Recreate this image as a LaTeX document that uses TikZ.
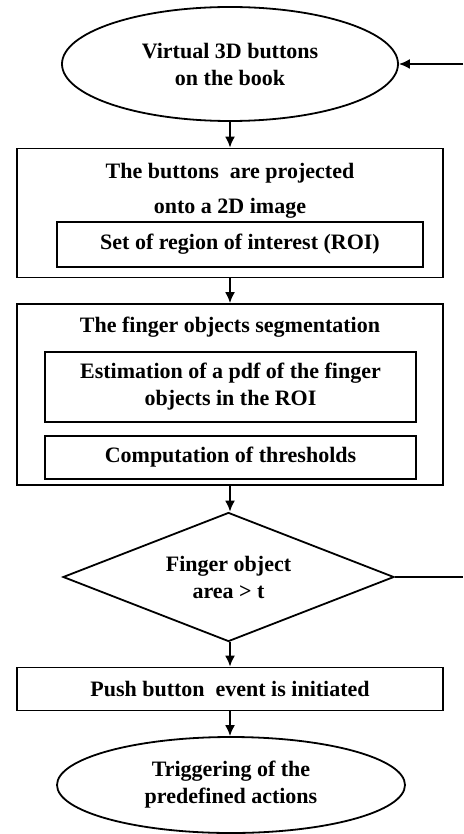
\documentclass[tikz,border=0pt]{standalone}
\usepackage{fontspec}
\setmainfont{Liberation Serif}
\usetikzlibrary{shapes.geometric,arrows.meta}

\begin{document}
\begin{tikzpicture}[x=1pt, y=-1pt,
   every node/.style={font=\bfseries\fontsize{22}{27}\selectfont, align=center, inner sep=0pt},
   box/.style={draw, line width=1.8pt, rectangle},
   oval/.style={draw, line width=1.8pt, ellipse},
   decide/.style={draw, line width=1.8pt, diamond, aspect=2.57},
   flow/.style={line width=1.8pt, -{Latex[length=11pt,width=10pt]}}]
   \useasboundingbox (0,0) rectangle (463,834);
   % start and end ovals
   \node (virt) [oval, minimum width=336pt, minimum height=114pt] at (230,64) {Virtual 3D buttons\\on the book};
   \node (trig) [oval, minimum width=348pt, minimum height=96pt] at (231,785) {Triggering of the\\predefined actions};
   % projection step
   \node (proj) [box, minimum width=426pt, minimum height=129pt] at (230,213) {};
   \node (projA) at (230,173) {The buttons~ are projected};
   \node (projB) at (230,208) {onto a 2D image};
   \node (roi) [box, minimum width=366pt, minimum height=45pt] at (240,244.5) {Set of region of interest (ROI)};
   % segmentation step
   \node (seg) [box, minimum width=426pt, minimum height=181pt] at (230,394.5) {};
   \node (segA) at (230,327) {The finger objects segmentation};
   \node (pdf) [box, minimum width=371pt, minimum height=70pt] at (230.5,387) {Estimation of a pdf of the finger\\objects in the ROI};
   \node (thr) [box, minimum width=371pt, minimum height=43pt] at (230.5,457.5) {Computation of thresholds};
   % decision and event
   \node (dec) [decide, minimum width=331pt, minimum height=129pt] at (228.5,577) {Finger object\\area > t};
   \node (push) [box, minimum width=426pt, minimum height=43pt] at (230,689) {Push button~ event is initiated};
   \coordinate (loopA) at (463,577);
   \coordinate (loopB) at (463,64);
   % connectors
   \draw [flow] (virt.south) -- (virt.south |- proj.north);
   \draw [flow] (proj.south) -- (seg.north);
   \draw [flow] (seg.south) -- (seg.south |- dec.north);
   \draw [flow] (dec.south -| push.north) -- (push.north);
   \draw [flow] (push.south) -- (push.south |- trig.north);
   \draw [line width=1.8pt] (dec.east) -- (loopA);
   \draw [flow] (loopB) -- (virt.east);
\end{tikzpicture}
\end{document}
